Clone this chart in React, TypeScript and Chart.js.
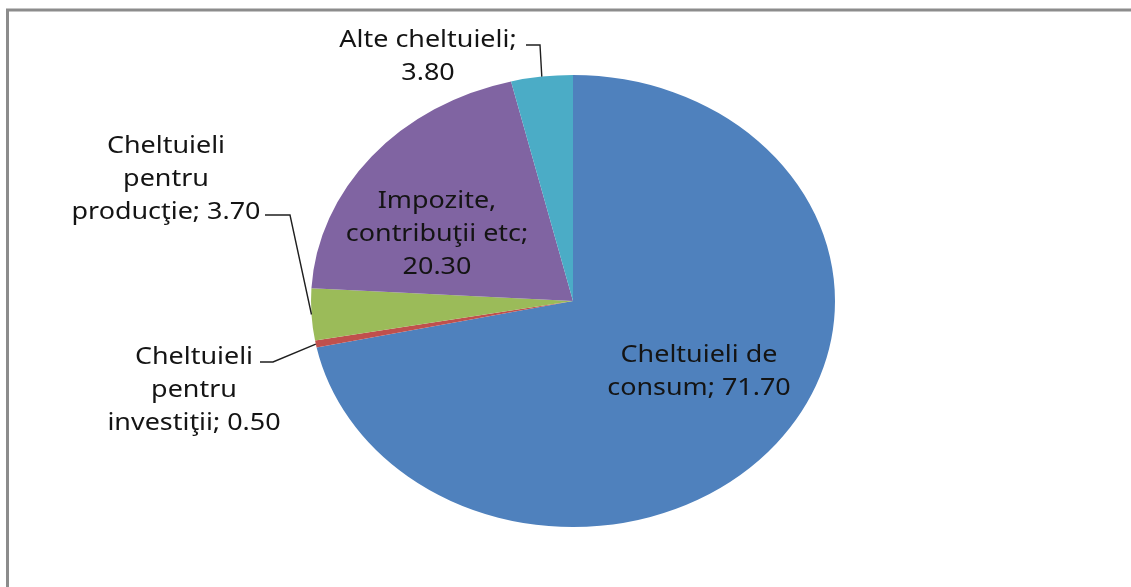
import React, { useEffect, useRef } from "react";
import { Chart, registerables } from "chart.js";

Chart.register(...registerables);

const categories = [
  "Cheltuieli de consum",
  "Cheltuieli pentru investiţii",
  "Cheltuieli pentru producţie",
  "Impozite, contribuţii etc",
  "Alte cheltuieli",
];
const values = [71.7, 0.5, 3.7, 20.3, 3.8];
const colors = ["#4F81BD", "#C0504D", "#9BBB59", "#8064A2", "#4BACC6"];
const labelLines = [
  ["Cheltuieli de", "consum; 71.70"],
  ["Cheltuieli", "pentru", "investiţii; 0.50"],
  ["Cheltuieli", "pentru", "producţie; 3.70"],
  ["Impozite,", "contribuţii etc;", "20.30"],
  ["Alte cheltuieli;", "3.80"],
];

const W = 1131;
const H = 587;
const CX = 573;
const CY = 301;
const R = 262;
const SY = 226 / 262;
const FONT = '23px "Noto Sans"';
const TEXT_SX = 1.17;
const LINE_H = 33;

// label layout: center x, first line center y, leader polyline (text-side part)
const labelLayout = [
  { x: 699, y: 355, leader: null as null | number[][] },
  { x: 194, y: 357, leader: [[260, 362], [273, 362]] },
  { x: 166, y: 146, leader: [[265, 215], [290, 215]] },
  { x: 437, y: 201, leader: null },
  { x: 428, y: 40, leader: [[526, 45], [540, 45]] },
];

const ellipsePlugin = {
  id: "ellipse",
  beforeDatasetsDraw(chart: any) {
    const ctx = chart.ctx;
    const meta = chart.getDatasetMeta(0);
    const el = meta.data[0];
    ctx.save();
    ctx.translate(el.x, el.y);
    ctx.scale(1, SY);
    ctx.translate(-el.x, -el.y);
  },
  afterDatasetsDraw(chart: any) {
    chart.ctx.restore();
  },
};

const framePlugin = {
  id: "frame",
  beforeDraw(chart: any) {
    const ctx = chart.ctx;
    ctx.save();
    ctx.fillStyle = "#ffffff";
    ctx.fillRect(0, 0, W, H);
    ctx.strokeStyle = "#8c8c8c";
    ctx.lineWidth = 3;
    ctx.strokeRect(7.5, 10, W + 20, H + 20);
    ctx.restore();
  },
};

const labelPlugin = {
  id: "pieLabels",
  afterDraw(chart: any) {
    const ctx = chart.ctx;
    const meta = chart.getDatasetMeta(0);
    ctx.save();
    ctx.font = FONT;
    ctx.fillStyle = "#141414";
    ctx.textAlign = "center";
    ctx.textBaseline = "middle";
    meta.data.forEach((arc: any, i: number) => {
      const lay = labelLayout[i];
      const lines = labelLines[i];
      lines.forEach((t, k) => {
        ctx.save();
        ctx.translate(lay.x, lay.y + k * LINE_H);
        ctx.scale(TEXT_SX, 1);
        ctx.fillText(t, 0, 0);
        ctx.restore();
      });
      if (lay.leader) {
        const mid = (arc.startAngle + arc.endAngle) / 2;
        const px = arc.x + arc.outerRadius * Math.cos(mid);
        const py = arc.y + arc.outerRadius * SY * Math.sin(mid);
        ctx.beginPath();
        ctx.strokeStyle = "#1f1f1f";
        ctx.lineWidth = 1.4;
        ctx.moveTo(lay.leader[0][0], lay.leader[0][1]);
        for (let j = 1; j < lay.leader.length; j++) ctx.lineTo(lay.leader[j][0], lay.leader[j][1]);
        ctx.lineTo(px, py);
        ctx.stroke();
      }
    });
    ctx.restore();
  },
};

export default function App() {
  const ref = useRef<HTMLCanvasElement | null>(null);
  useEffect(() => {
    if (!ref.current) return;
    const chart = new Chart(ref.current, {
      type: "pie",
      data: {
        labels: categories,
        datasets: [
          {
            data: values,
            backgroundColor: colors,
            borderWidth: 0,
          },
        ],
      },
      options: {
        animation: false,
        responsive: false,
        maintainAspectRatio: false,
        layout: {
          padding: { left: CX - R, right: W - (CX + R), top: CY - R, bottom: H - (CY + R) },
        },
        plugins: {
          legend: { display: false },
          tooltip: { enabled: false },
        },
      },
      plugins: [framePlugin, ellipsePlugin, labelPlugin],
    });
    return () => chart.destroy();
  }, []);
  return (
    <div style={{ position: "fixed", left: 0, top: 0, width: W, height: H, background: "#fff" }}>
      <canvas ref={ref} width={W} height={H} style={{ width: W, height: H, display: "block" }} />
    </div>
  );
}
